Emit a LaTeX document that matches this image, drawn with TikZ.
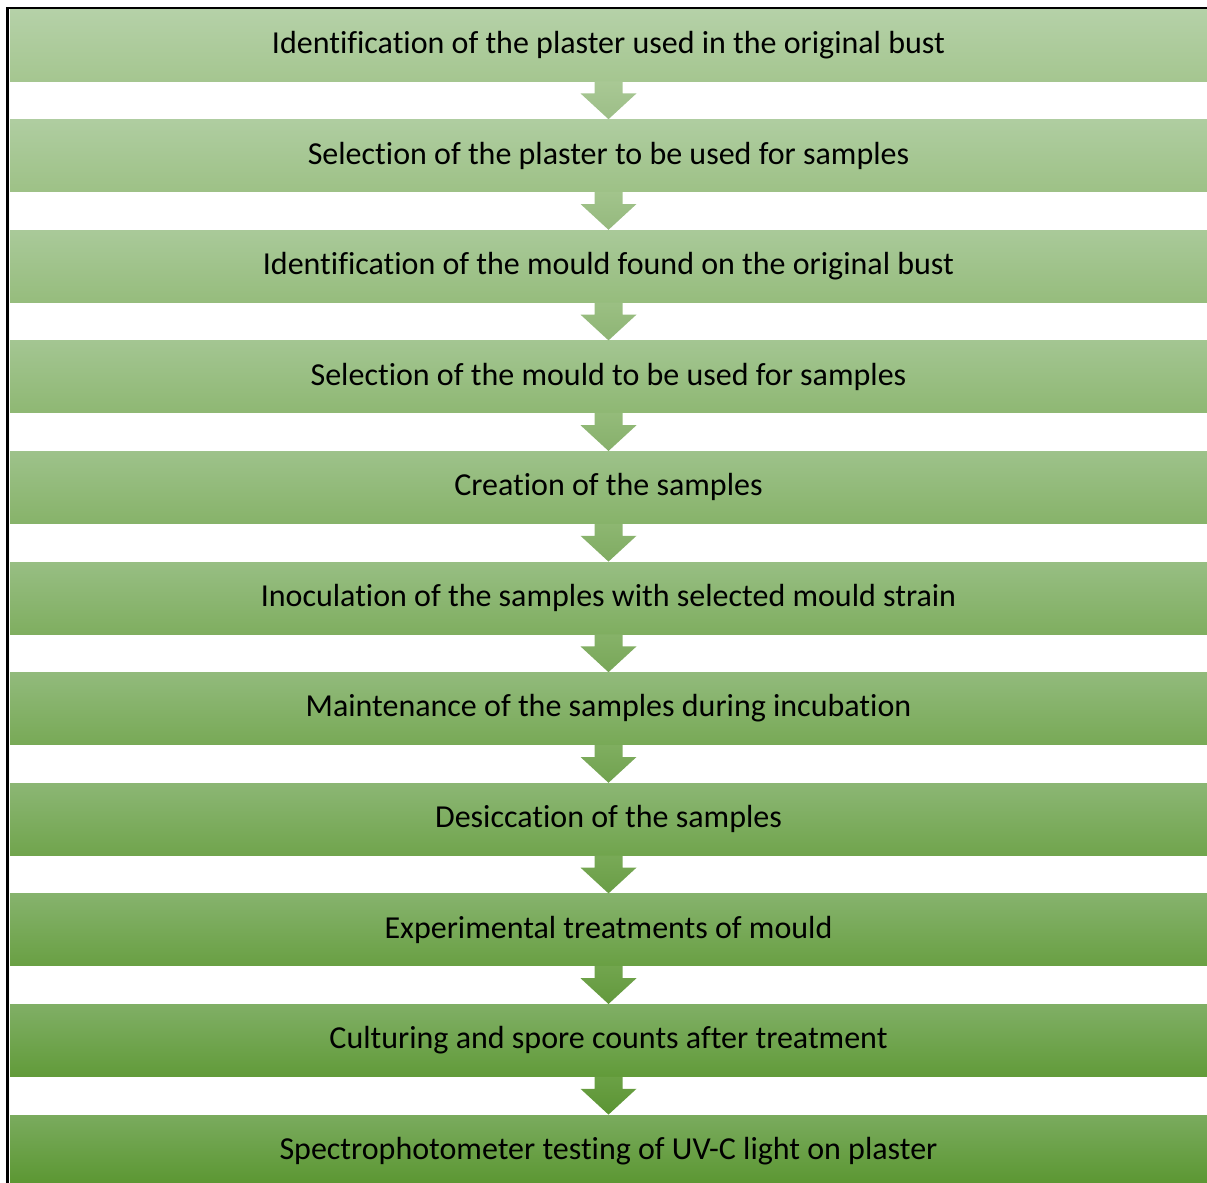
\documentclass[tikz,border=0pt]{standalone}
\usepackage{fontspec}
\setmainfont{Carlito}[Ligatures=NoCommon]
\usepackage{tikz}
\usetikzlibrary{calc}

\definecolor{topA}{HTML}{B5D1A8}
\definecolor{topB}{HTML}{7AAB5E}
\definecolor{botA}{HTML}{A5C690}
\definecolor{botB}{HTML}{5A9630}

\begin{document}
\begin{tikzpicture}[x=0.5pt,y=-0.5pt,
    stepbar/.style={rectangle,inner sep=0pt,minimum width=598.5pt,minimum height=36pt,
      font=\fontsize{16}{19}\selectfont,text=black}]
  \useasboundingbox (0,0) rectangle (1207,1183);
  %\draw[very thin,lightgray] (0,0) grid[step=100] (1207,1183);
  \foreach \i/\t in {1/Identification of the plaster used in the original bust,
      2/Selection of the plaster to be used for samples,
      3/Identification of the mould found on the original bust,
      4/Selection of the mould to be used for samples,
      5/Creation of the samples,
      6/Inoculation of the samples with selected mould strain,
      7/Maintenance of the samples during incubation,
      8/Desiccation of the samples,
      9/Experimental treatments of mould,
      10/Culturing and spore counts after treatment,
      11/Spectrophotometer testing of UV-C light on plaster}{
    \pgfmathtruncatemacro{\p}{(\i-1)*10}
    \colorlet{bt}{topB!\p!topA}
    \colorlet{bb}{botB!\p!botA}
    \node[stepbar,top color=bt,bottom color=bb] (s\i) at (608.5,{45+(\i-1)*110.6}) {\t};
  }
  % arrows between steps
  \foreach \i in {1,...,10}{
    \pgfmathtruncatemacro{\j}{\i+1}
    \pgfmathtruncatemacro{\p}{(\i-1)*10+5}
    \colorlet{at}{botB!\p!botA}
    \shade[top color=at!92!white,bottom color=at!97!black]
      ($(s\i.south)+(-7pt,0)$) -- ($(s\i.south)+(-7pt,-6pt)$) -- ($(s\i.south)+(-14pt,-6pt)$)
      -- (s\j.north) -- ($(s\i.south)+(14pt,-6pt)$) -- ($(s\i.south)+(7pt,-6pt)$)
      -- ($(s\i.south)+(7pt,0)$) -- cycle;
  }
  \draw[line width=1.2pt] (6.5,8) -- (1207,8);
  \draw[line width=1.75pt] (7.5,7.4) -- (7.5,1183);
\end{tikzpicture}
\end{document}
